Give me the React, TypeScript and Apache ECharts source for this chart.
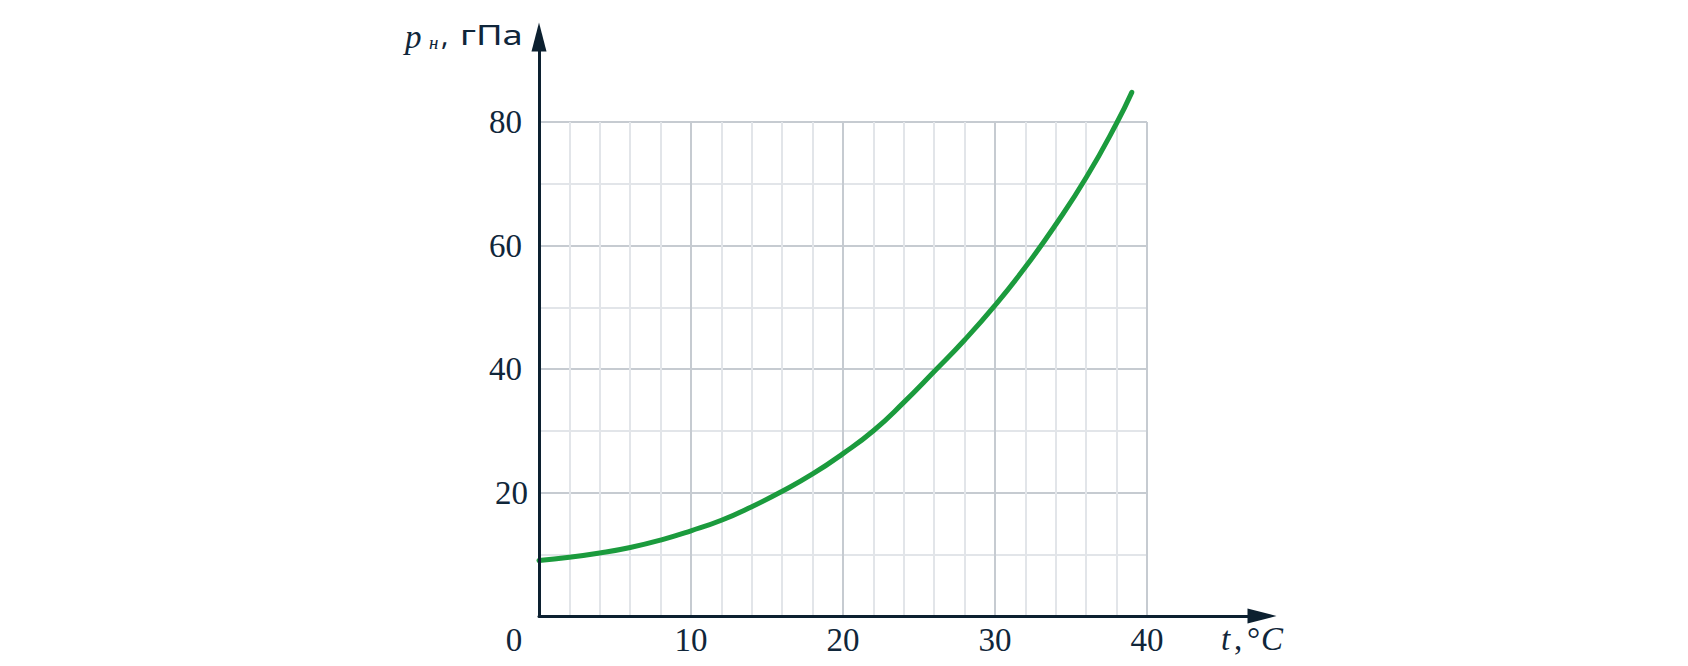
import React, { useEffect, useRef } from "react";
import * as echarts from "echarts";

// Temperature, °C
const temperatures = [0, 2, 4, 6, 8, 10, 12, 14, 16, 18, 20, 22, 24, 26, 28, 30, 32, 34, 36, 38, 39];
// Saturated vapour pressure, hPa
const pressures = [9.0, 9.5, 10.2, 11.1, 12.3, 13.8, 15.5, 17.7, 20.2, 23.0, 26.3, 30.0, 34.6, 39.6, 44.7, 50.3, 56.5, 63.4, 71.0, 79.8, 84.8];

const xMin = 0;
const xMax = 40;
const xStep = 10;
const yMin = 0;
const yMax = 80;
const yStep = 20;

const AXIS = "#0c2030";
const TEXT = "#10263a";
const MAJOR = "#c6cbd1";
const MINOR = "#e2e5e9";
const GREEN = "#1b9b3d";
const SERIF = "Liberation Serif";
const SANS = "Noto Sans";

export default function App() {
  const ref = useRef<HTMLDivElement>(null);

  useEffect(() => {
    if (!ref.current) return;
    const chart = echarts.init(ref.current, undefined, { renderer: "svg" });
    const data = temperatures.map((t, i) => [t, pressures[i]]);

    const txt = (
      text: string,
      left: number,
      top: number,
      fontSize: number,
      fontFamily: string,
      fontStyle: string = "normal",
      scaleX: number = 1
    ) => ({
      type: "text",
      left,
      top,
      z: 10,
      scaleX,
      style: { text, fontSize, fontFamily, fontStyle, fill: TEXT },
    });

    chart.setOption({
      animation: false,
      backgroundColor: "#ffffff",
      grid: [
        { left: 539, top: 122, width: 608, height: 494 },
        { left: 539, top: 37, width: 723, height: 579 },
      ],
      xAxis: [
        {
          type: "value",
          gridIndex: 0,
          min: xMin,
          max: xMax,
          interval: xStep,
          axisLine: { show: false },
          axisTick: { show: false },
          minorTick: { show: false, splitNumber: 5 },
          splitLine: { show: true, lineStyle: { color: MAJOR, width: 2 } },
          minorSplitLine: { show: true, lineStyle: { color: MINOR, width: 2 } },
          axisLabel: {
            margin: 24,
            verticalAlign: "middle",
            fontFamily: SERIF,
            fontSize: 33,
            color: TEXT,
            formatter: (v: number) => (v === 0 ? "{zero|0}" : String(v)),
            rich: {
              zero: { fontFamily: SERIF, fontSize: 33, color: TEXT, padding: [0, 50, 0, 0] },
            },
          },
        },
        {
          type: "value",
          gridIndex: 1,
          min: 0,
          max: 1,
          z: 5,
          axisLine: {
            show: true,
            symbol: ["none", "triangle"],
            symbolSize: [15, 29],
            lineStyle: { color: AXIS, width: 3 },
          },
          axisTick: { show: false },
          axisLabel: { show: false },
          splitLine: { show: false },
        },
      ],
      yAxis: [
        {
          type: "value",
          gridIndex: 0,
          min: yMin,
          max: yMax,
          interval: yStep,
          axisLine: { show: false },
          axisTick: { show: false },
          minorTick: { show: false, splitNumber: 2 },
          splitLine: { show: true, lineStyle: { color: MAJOR, width: 2 } },
          minorSplitLine: { show: true, lineStyle: { color: MINOR, width: 2 } },
          axisLabel: {
            margin: 11,
            fontFamily: SERIF,
            fontSize: 33,
            color: TEXT,
            formatter: (v: number) => (v === 0 ? "" : v === 20 ? "{b|20}" : "{a|" + v + "}"),
            rich: {
              a: { fontFamily: SERIF, fontSize: 33, color: TEXT, padding: [0, 6, 0, 0] },
              b: { fontFamily: SERIF, fontSize: 33, color: TEXT },
            },
          },
        },
        {
          type: "value",
          gridIndex: 1,
          min: 0,
          max: 1,
          z: 5,
          axisLine: {
            show: true,
            symbol: ["none", "triangle"],
            symbolSize: [15, 29],
            lineStyle: { color: AXIS, width: 3 },
          },
          axisTick: { show: false },
          axisLabel: { show: false },
          splitLine: { show: false },
        },
      ],
      series: [
        {
          type: "line",
          xAxisIndex: 0,
          yAxisIndex: 0,
          data,
          smooth: 0.5,
          clip: false,
          showSymbol: false,
          symbol: "none",
          lineStyle: { color: GREEN, width: 5, cap: "round" },
          z: 3,
        },
      ],
      graphic: [
        txt("p", 405, 20, 33, SERIF, "italic"),
        txt("н", 429, 33, 19, SERIF, "italic"),
        txt(",", 441, 20, 28, SANS),
        txt("гПа", 460, 20, 28, SANS, "normal", 1.3),
        txt("t", 1221, 622, 33, SERIF, "italic"),
        txt(",", 1234, 622, 33, SERIF),
        txt("°", 1247, 622, 33, SERIF),
        txt("C", 1261, 622, 33, SERIF, "italic"),
      ],
    });

    return () => chart.dispose();
  }, []);

  return (
    <div
      ref={ref}
      style={{ position: "absolute", left: 0, top: 0, width: 1688, height: 666, background: "#fff" }}
    />
  );
}
